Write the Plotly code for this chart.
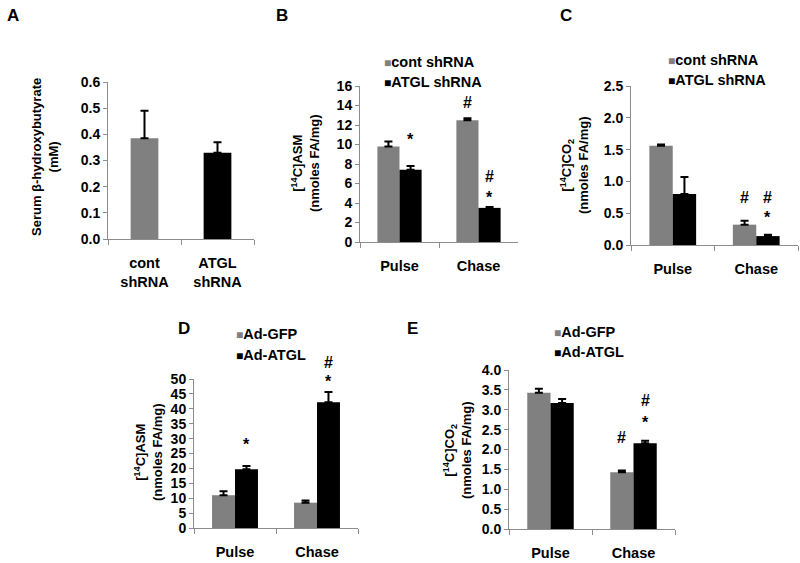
import plotly.graph_objects as go

# ---------------- data ----------------
a_categories = ["cont<br>shRNA", "ATGL<br>shRNA"]
a_values = [0.385, 0.33]
a_errors = [0.105, 0.04]

pc_categories = ["Pulse", "Chase"]

b_cont = [9.8, 12.5]
b_cont_err = [0.5, 0.2]
b_atgl = [7.4, 3.5]
b_atgl_err = [0.4, 0.1]

c_cont = [1.56, 0.32]
c_cont_err = [0.02, 0.06]
c_atgl = [0.80, 0.14]
c_atgl_err = [0.27, 0.02]

d_gfp = [11.0, 8.5]
d_gfp_err = [1.3, 0.7]
d_atgl = [19.7, 42.2]
d_atgl_err = [1.1, 3.4]

e_gfp = [3.43, 1.43]
e_gfp_err = [0.10, 0.04]
e_atgl = [3.17, 2.16]
e_atgl_err = [0.10, 0.06]

legend_bc = ["cont shRNA", "ATGL shRNA"]
legend_de = ["Ad-GFP", "Ad-ATGL"]

# significance marks: (symbol, category index, series 0=grey/1=black, y value)
b_marks = [("*", 0, 1, 10.5), ("#", 1, 0, 14.3), ("#", 1, 1, 6.7), ("*", 1, 1, 4.6)]
c_marks = [("#", 1, 0, 0.74), ("#", 1, 1, 0.74), ("*", 1, 1, 0.44)]
d_marks = [("*", 0, 1, 27.9), ("#", 1, 1, 55.7), ("*", 1, 1, 49.0)]
e_marks = [("#", 1, 0, 2.31), ("#", 1, 1, 3.24), ("*", 1, 1, 2.69)]

# ---------------- styling ----------------
W, H = 800, 563
GREY = "#808080"
BLACK = "#000000"
AXIS = "#8c8c8c"
FONT = "Liberation Sans"

def px_x(x):
    return x / W

def px_y(y):
    return 1 - y / H

fig = go.Figure()

panels = {
    # name: (x0, x1, ytop, ybottom, range, dtick, fmt)
    "1": (108, 254, 82, 239, [0, 0.6], 0.1, ".1f"),
    "2": (360, 518, 86, 242, [0, 16], 2, "d"),
    "3": (631, 798, 86, 245, [0, 2.5], 0.5, ".1f"),
    "4": (194, 358, 379, 528, [0, 50], 5, "d"),
    "5": (509, 675, 370, 529, [0, 4.0], 0.5, ".1f"),
}
ranges = {k: v[4] for k, v in panels.items()}

err_style = dict(type="data", symmetric=False, color=BLACK, thickness=2, width=4)

# Panel A
fig.add_trace(go.Bar(
    x=a_categories, y=a_values, width=0.38,
    marker=dict(color=[GREY, BLACK], line=dict(width=0)),
    error_y=dict(array=a_errors, arrayminus=[0, 0], **err_style),
    xaxis="x", yaxis="y", showlegend=False,
))

BW = 0.28

def grouped(axn, grey_vals, grey_err, black_vals, black_err, w=BW):
    xa = "x" + axn
    ya = "y" + axn
    fig.add_trace(go.Bar(
        x=pc_categories, y=grey_vals, width=w, offset=-w,
        marker=dict(color=GREY, line=dict(width=0)),
        error_y=dict(array=grey_err, arrayminus=[0, 0], **err_style),
        xaxis=xa, yaxis=ya, showlegend=False,
    ))
    fig.add_trace(go.Bar(
        x=pc_categories, y=black_vals, width=w, offset=0,
        marker=dict(color=BLACK, line=dict(width=0)),
        error_y=dict(array=black_err, arrayminus=[0, 0], **err_style),
        xaxis=xa, yaxis=ya, showlegend=False,
    ))

grouped("2", b_cont, b_cont_err, b_atgl, b_atgl_err)
grouped("3", c_cont, c_cont_err, c_atgl, c_atgl_err)
grouped("4", d_gfp, d_gfp_err, d_atgl, d_atgl_err)
grouped("5", e_gfp, e_gfp_err, e_atgl, e_atgl_err)

layout = dict(
    width=W, height=H, margin=dict(l=0, r=0, t=0, b=0, pad=0, autoexpand=False),
    autosize=False,
    paper_bgcolor="white", plot_bgcolor="white",
    barmode="overlay", showlegend=False,
    font=dict(family=FONT, color=BLACK, size=14),
)

for k, (x0, x1, yt, yb, rng, dt, fmt) in panels.items():
    sfx = "" if k == "1" else k
    layout["xaxis" + sfx] = dict(
        domain=[px_x(x0), px_x(x1)], anchor="y" + sfx, type="category",
        range=[-0.5, 1.5], tickson="boundaries", ticks="outside", ticklen=5,
        tickcolor=AXIS, showline=True, linecolor=AXIS, linewidth=1,
        showgrid=False, zeroline=False, ticklabelstandoff=11, automargin=False,
        tickfont=dict(family=FONT, size=14.5, weight="bold"),
    )
    layout["yaxis" + sfx] = dict(
        domain=[px_y(yb), px_y(yt)], anchor="x" + sfx, range=rng, dtick=dt,
        tick0=0, tickformat=fmt, ticks="outside", ticklen=4, tickcolor=AXIS,
        showline=True, linecolor=AXIS, linewidth=1, showgrid=False, automargin=False,
        zeroline=False, tickfont=dict(family=FONT, size=14, weight="bold"),
    )

fig.update_layout(**layout)

ann = []

def add_text(x, y, text, size=14, angle=0, xanchor="center", yanchor="middle"):
    ann.append(dict(x=px_x(x), y=px_y(y), xref="paper", yref="paper", text=text,
                    showarrow=False, textangle=angle, xanchor=xanchor, yanchor=yanchor,
                    font=dict(family=FONT, size=size, color=BLACK, weight="bold")))

# panel letters
for letter, (lx, ly) in {"A": (13, 15), "B": (282, 15), "C": (566, 15),
                         "D": (184, 328), "E": (412, 328)}.items():
    add_text(lx, ly, letter, size=17)

# y-axis titles
add_text(45, 157, "Serum β-hydroxybutyrate<br>(mM)", size=13, angle=-90)
add_text(305, 163, "[<sup>14</sup>C]ASM<br>(nmoles FA/mg)", size=13, angle=-90)
add_text(574, 165, "[<sup>14</sup>C]CO<sub>2</sub><br>(nmoles FA/mg)", size=13, angle=-90)
add_text(148, 452, "[<sup>14</sup>C]ASM<br>(nmoles FA/mg)", size=13, angle=-90)
add_text(457, 450, "[<sup>14</sup>C]CO<sub>2</sub><br>(nmoles FA/mg)", size=13, angle=-90)

# legends
def legend(x, y1, y2, names):
    add_text(x, y1, f'<span style="color:{GREY}; font-size:12px">■</span>{names[0]}', size=14.5, xanchor="left")
    add_text(x, y2, f'<span style="color:{BLACK}; font-size:12px">■</span>{names[1]}', size=14.5, xanchor="left")

legend(382, 62, 82, legend_bc)
legend(666, 60, 80, legend_bc)
legend(234, 334, 355, legend_de)
legend(552, 332, 352, legend_de)

# significance marks (placed on the axis domain so marks above the range still show)
def marks(axn, lst, w=BW):
    lo, hi = ranges[axn]
    for sym, ci, series, yv in lst:
        xpos = ci - w / 2 if series == 0 else ci + w / 2
        ann.append(dict(x=xpos, y=(yv - lo) / (hi - lo), xref="x" + axn,
                        yref="y" + axn + " domain", text=sym,
                        showarrow=False, xanchor="center", yanchor="middle",
                        font=dict(family=FONT, size=16, color=BLACK, weight="bold")))

marks("2", b_marks)
marks("3", c_marks)
marks("4", d_marks)
marks("5", e_marks)

fig.update_layout(annotations=ann)
fig.write_html("out.html", config={"displayModeBar": False},
               post_script="document.body.style.margin='0';")
